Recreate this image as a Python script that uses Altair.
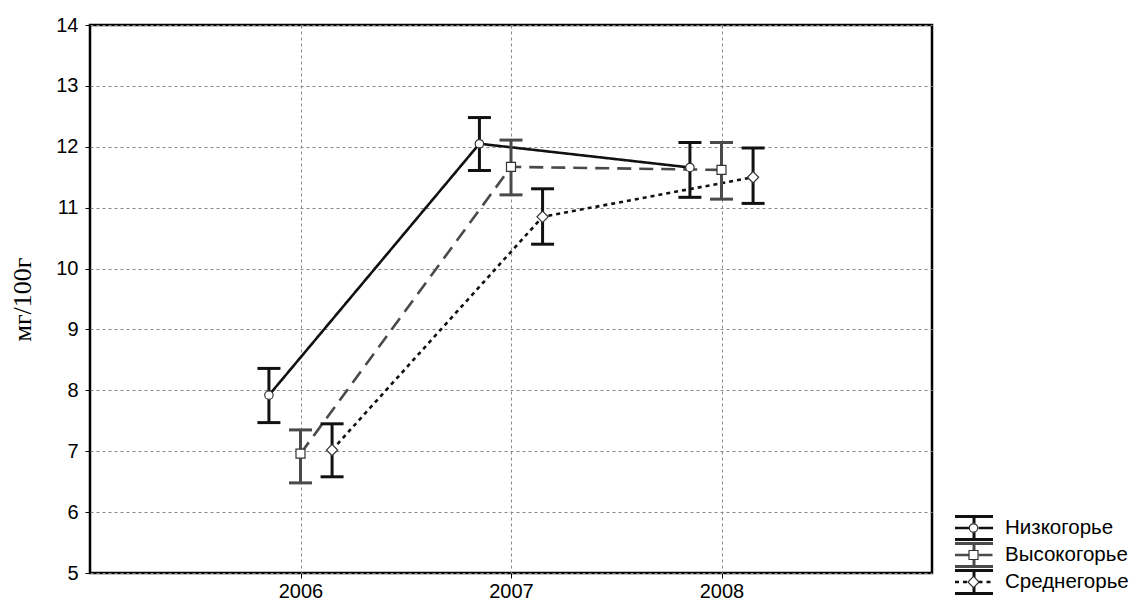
import altair as alt
import pandas as pd

years = [2006, 2007, 2008]
series = ["Низкогорье", "Высокогорье", "Среднегорье"]

nizko_mean = [7.92, 12.05, 11.66]
nizko_lo = [7.47, 11.61, 11.17]
nizko_hi = [8.36, 12.48, 12.07]

vysoko_mean = [6.96, 11.67, 11.62]
vysoko_lo = [6.48, 11.21, 11.14]
vysoko_hi = [7.35, 12.11, 12.07]

sredne_mean = [7.02, 10.85, 11.50]
sredne_lo = [6.58, 10.40, 11.07]
sredne_hi = [7.45, 11.31, 11.98]

y_ticks = [5, 6, 7, 8, 9, 10, 11, 12, 13, 14]

colors = ["#111111", "#4a4a4a", "#111111"]
marker_strokes = ["#333333", "#333333", "#333333"]
dashes = [[1, 0], [14, 8], [4, 4]]
offsets = [-0.15, 0.0, 0.15]
shape_paths = [
    "M0.42,0A0.42,0.42,0,1,1,-0.42,0A0.42,0.42,0,1,1,0.42,0Z",
    "M-0.45,-0.45H0.45V0.45H-0.45Z",
    "M0,-0.56L0.56,0L0,0.56L-0.56,0Z",
]

rows = []
for s, off, ms, los, his in zip(
    series, offsets,
    [nizko_mean, vysoko_mean, sredne_mean],
    [nizko_lo, vysoko_lo, sredne_lo],
    [nizko_hi, vysoko_hi, sredne_hi],
):
    for yr, m, lo, hi in zip(years, ms, los, his):
        rows.append(dict(series=s, year=yr, xpos=yr + off, mean=m, lo=lo, hi=hi))
df = pd.DataFrame(rows)
df["s_line"] = df["series"]
df["s_bar"] = df["series"]
df["s_pt"] = df["series"]

FONT = "Liberation Sans"
xscale = alt.Scale(domain=[2005, 2009], nice=False, zero=False)
yscale = alt.Scale(domain=[5, 14], nice=False, zero=False)
xaxis = alt.Axis(values=years, format="d", title=None, grid=True, gridColor="#8a8a8a",
                 gridDash=[3, 3], gridWidth=1, tickSize=5, tickColor="black",
                 labelPadding=3, labelFontSize=20, labelColor="black", domain=False)
yaxis = alt.Axis(values=y_ticks, title="мг/100г", grid=True, gridColor="#8a8a8a",
                 gridDash=[3, 3], gridWidth=1, tickSize=5, tickColor="black",
                 labelPadding=7, labelFontSize=20, labelColor="black", domain=False,
                 titleFont="Liberation Serif", titleFontSize=26, titleFontWeight="normal",
                 titleColor="black", titlePadding=20)

def X(field):
    return alt.X(f"{field}:Q", scale=xscale, axis=xaxis, title=None)

def Y(field):
    return alt.Y(f"{field}:Q", scale=yscale, axis=yaxis, title="мг/100г")

leg_common = dict(orient="none", legendX=864.5, legendY=489.5, symbolSize=400,
                  symbolOffset=8, clipHeight=27,
                  labelFont=FONT, labelFontSize=20.5, labelColor="black",
                  labelOffset=19.5, labelLimit=200, rowPadding=0, padding=0, title=None)

leg_bar = alt.Legend(
    symbolType="M-1.9,-1.15H1.9M-1.9,1.15H1.9M0,-1.15V-0.42M0,0.42V1.15",
    symbolStrokeWidth=3, **leg_common)
leg_line = alt.Legend(symbolType="M-1.9,0H-0.45M0.45,0H1.9", symbolStrokeWidth=2.5,
                      labelOpacity=0, **leg_common)
leg_pt = alt.Legend(symbolFillColor="white", symbolStrokeWidth=1.2,
                    labelOpacity=0, **leg_common)

base = alt.Chart(df)

lines = base.mark_line(strokeWidth=2.6).encode(
    x=X("xpos"), y=Y("mean"),
    color=alt.Color("s_line:N", scale=alt.Scale(domain=series, range=colors), legend=leg_line),
    strokeDash=alt.StrokeDash("s_line:N", scale=alt.Scale(domain=series, range=dashes), legend=leg_line),
    order="xpos:Q",
)

bar_color = alt.Color("s_bar:N", sort=series, scale=alt.Scale(range=colors), legend=leg_bar)
vbar = base.mark_rule(strokeWidth=3).encode(x=X("xpos"), y=Y("lo"), y2="hi:Q", color=bar_color)
cap_lo = base.mark_rule(strokeWidth=3, xOffset=-11.5, x2Offset=11.5).encode(
    x=X("xpos"), x2="xpos:Q", y=Y("lo"), color=bar_color)
cap_hi = base.mark_rule(strokeWidth=3, xOffset=-11.5, x2Offset=11.5).encode(
    x=X("xpos"), x2="xpos:Q", y=Y("hi"), color=bar_color)
bars = alt.layer(vbar, cap_lo, cap_hi)

points = base.mark_point(filled=False, fill="white", fillOpacity=1, strokeWidth=1.2,
                         size=400, opacity=1).encode(
    x=X("xpos"), y=Y("mean"),
    shape=alt.Shape("s_pt:N", scale=alt.Scale(domain=series, range=shape_paths), legend=leg_pt),
    stroke=alt.Stroke("s_pt:N", scale=alt.Scale(domain=series, range=marker_strokes), legend=leg_pt),
)

chart = alt.layer(lines, bars, points).resolve_scale(
    color="independent", shape="independent", strokeDash="independent", stroke="independent"
).resolve_legend(
    color="independent", shape="independent", strokeDash="independent", stroke="independent"
).properties(
    width=842, height=548,
    autosize=alt.AutoSizeParams(type="none"),
    padding={"left": 82, "top": 17, "right": 199, "bottom": 27},
    background="white",
).configure(font=FONT).configure_view(stroke="black", strokeWidth=2.5)

chart.save("out.html", embed_options={"renderer": "svg", "actions": False})
